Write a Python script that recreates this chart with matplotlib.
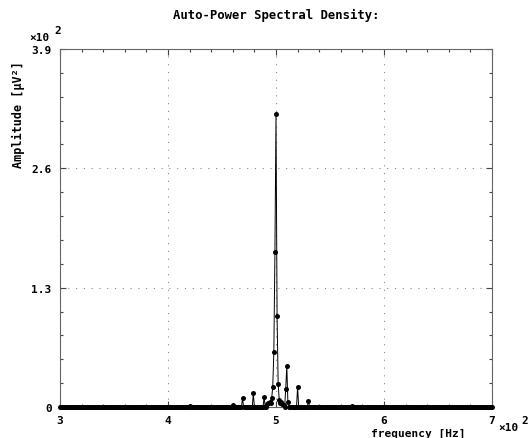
import matplotlib
matplotlib.use("Agg")
import matplotlib.pyplot as plt
import numpy as np
from matplotlib.ticker import FixedLocator, FixedFormatter, MultipleLocator

# spectrum sampled every 1 Hz, mostly flat with a few lines around 500 Hz
freq = np.arange(300, 701)  # Hz
peak_freq = [420, 460, 469, 479, 489, 492, 493, 494, 495, 496, 497, 498, 499, 500,
             501, 502, 503, 504, 505, 506, 507, 509, 510, 511, 520, 530, 570]
peak_amp = [1, 2.5, 9.5, 15, 11, 3, 4, 5, 4, 9.5, 22, 60, 169, 319,
            99, 25, 8, 4, 5, 3, 2, 20, 45, 5, 22, 7, 1]  # µV²

amp = np.zeros(len(freq))
amp[np.searchsorted(freq, peak_freq)] = peak_amp

xticks = [300, 400, 500, 600, 700]
xtick_labels = ["3", "4", "5", "6", "7"]
yticks = [0, 130, 260, 390]
ytick_labels = ["0", "1.3", "2.6", "3.9"]

mono = {"family": "DejaVu Sans Mono", "weight": "bold", "size": 8}

fig = plt.figure(figsize=(5.29, 4.39), dpi=100)
ax = fig.add_axes([60/529, 1-408/439, (492-60)/529, (408-50)/439])

ax.plot(freq, amp, color="black", linewidth=0.7, marker="o", markersize=3.6,
        markeredgewidth=0, clip_on=False, zorder=3)

ax.set_xlim(300, 700)
ax.set_ylim(0, 390)
ax.xaxis.set_major_locator(FixedLocator(xticks))
ax.xaxis.set_major_formatter(FixedFormatter(xtick_labels))
ax.yaxis.set_major_locator(FixedLocator(yticks))
ax.yaxis.set_major_formatter(FixedFormatter(ytick_labels))
ax.xaxis.set_minor_locator(MultipleLocator(20))
ax.yaxis.set_minor_locator(MultipleLocator(26))
ax.tick_params(which="both", direction="in", top=True, right=True, colors="#444444",
               labelcolor="black", width=0.8)
ax.tick_params(which="major", length=4, pad=6)
ax.tick_params(which="minor", length=2)
for lab in ax.get_xticklabels() + ax.get_yticklabels():
    lab.set_fontfamily(mono["family"])
    lab.set_fontweight("bold")
    lab.set_fontsize(8)
for s in ax.spines.values():
    s.set_color("#666666")
    s.set_linewidth(0.8)

ax.grid(True, which="major", color="#888888", linestyle=(0, (1, 6)), linewidth=0.8)

fig.text(276/529, 1-15/439, "Auto-Power Spectral Density:", ha="center", va="center",
         **{**mono, "size": 8.8})
fig.text(18/529, 1-115/439, "Amplitude [µV²]", rotation=90, ha="center", va="center",
         **{**mono, "size": 8.5})
fig.text(418/529, 1-434/439, "frequency [Hz]", ha="center", va="center", **mono)

fig.text(29/529, 1-38/439, "×10", ha="left", va="center", **mono)
fig.text(54/529, 1-31/439, "2", ha="left", va="center", **mono)
fig.text(498/529, 1-428/439, "×10", ha="left", va="center", **mono)
fig.text(521/529, 1-421/439, "2", ha="left", va="center", **mono)

fig.savefig("out.png", dpi=100)
